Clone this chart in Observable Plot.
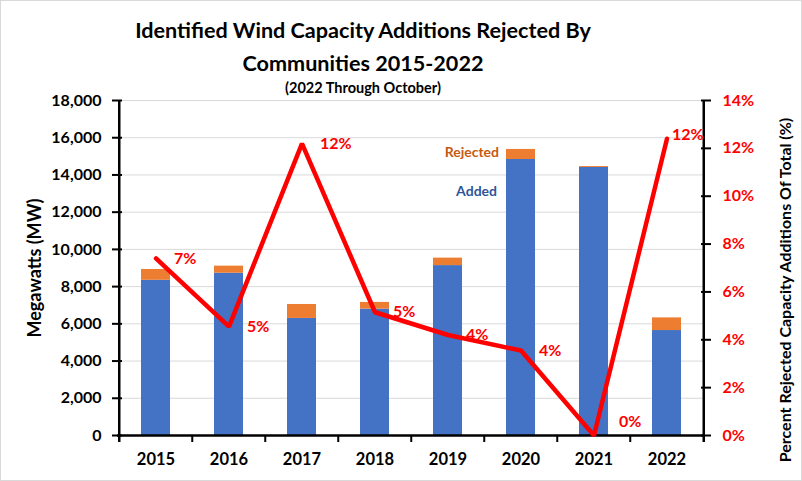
<!DOCTYPE html>
<html>
<head>
<meta charset="utf-8">
<script src="https://cdn.jsdelivr.net/npm/d3@7"></script>
<script src="https://cdn.jsdelivr.net/npm/@observablehq/plot@0.6"></script>
<style>
  html, body { margin: 0; padding: 0; background: #fff; }
  #wrap { position: relative; width: 802px; height: 481px; overflow: hidden; font-family: Lato, "Open Sans", sans-serif; }
  #border { position: absolute; left: 0; top: 0; width: 800px; height: 479px; border: 1px solid #d9d9d9; pointer-events: none; }
  .t { position: absolute; left: 0; width: 726px; text-align: center; font-weight: bold; color: #000; white-space: nowrap; }
  #t1 { top: 14px; font-size: 21.6px; line-height: 32px; }
  #t2 { top: 47px; font-size: 21.6px; line-height: 32px; }
  #t3 { top: 79px; font-size: 14.5px; line-height: 18px; }
  #chart { position: absolute; left: 0; top: 90px; }
</style>
</head>
<body>
<div id="wrap">
  <div class="t" id="t1">Identified Wind Capacity Additions Rejected By</div>
  <div class="t" id="t2">Communities 2015-2022</div>
  <div class="t" id="t3">(2022 Through October)</div>
  <div id="chart"></div>
  <div id="border"></div>
</div>
<script>
const years = ["2015", "2016", "2017", "2018", "2019", "2020", "2021", "2022"];
const added = [8340, 8720, 6290, 6790, 9130, 14830, 14400, 5640];
const rejected = [580, 380, 750, 360, 400, 540, 50, 680];
const pctRejected = [7.4, 4.55, 12.2, 5.15, 4.2, 3.55, 0.0, 12.4];
const seriesNames = ["Added", "Rejected"];
const mwTicks = [0, 2000, 4000, 6000, 8000, 10000, 12000, 14000, 16000, 18000];
const pctTicks = [0, 2, 4, 6, 8, 10, 12, 14];

const MW_MAX = 18000, PCT_MAX = 14;
const K = MW_MAX / PCT_MAX;

const stacked = years.flatMap((yr, i) => [
  {year: yr, series: "Added", value: added[i]},
  {year: yr, series: "Rejected", value: rejected[i]}
]);
const pctData = years.map((yr, i) => ({year: yr, pct: pctRejected[i], i}));
const lastIdx = years.length - 1;
const labelsMain = pctData.filter(d => d.i !== lastIdx && d.pct > 0.5);
const labelsZero = pctData.filter(d => d.i !== lastIdx && d.pct <= 0.5);
const labelsLast = pctData.filter(d => d.i === lastIdx);

const iLab = years.indexOf("2020");
const rejectedLabel = [{year: years[iLab], y: added[iLab] + rejected[iLab], text: "Rejected"}];
const addedLabel = [{year: years[iLab], y: added[iLab], text: "Added"}];

const halfStep = 36.75;
const pctFmt = d => Math.round(d.pct) + "%";

const chart = Plot.plot({
  width: 802,
  height: 391,
  marginTop: 10,
  marginBottom: 46,
  marginLeft: 117,
  marginRight: 97,
  style: {fontFamily: "Lato, 'Open Sans', sans-serif", background: "transparent", overflow: "visible"},
  x: {domain: years, paddingInner: 0.6, paddingOuter: 0.3, label: null},
  y: {domain: [0, MW_MAX], label: null},
  color: {domain: seriesNames, range: ["#4472c4", "#ed7d31"]},
  marks: [
    Plot.gridY(mwTicks, {stroke: "#d9d9d9", strokeOpacity: 1, strokeWidth: 1}),
    Plot.barY(stacked, {x: "year", y: "value", fill: "series", order: seriesNames}),
    // axis lines
    Plot.ruleY([0], {stroke: "#000", strokeWidth: 2.5}),
    Plot.ruleX([years[0]], {dx: -halfStep, stroke: "#000", strokeWidth: 2.5, insetBottom: -7}),
    Plot.ruleX([years[lastIdx]], {dx: halfStep, stroke: "#000", strokeWidth: 2.5, insetBottom: -7}),
    Plot.ruleX(years.slice(1), {dx: -halfStep, stroke: "#000", strokeWidth: 2, insetTop: 328, dy: 7}),
    // left axis
    Plot.axisY({ticks: mwTicks, tickFormat: d3.format(","), tickSize: 10, dx: 5, tickPadding: 11,
      fontSize: 16, fontWeight: "bold", fill: "#000", stroke: "#000", strokeWidth: 2, label: null}),
    // right axis (percent)
    Plot.axisY({anchor: "right", ticks: pctTicks.map(p => p * K), tickFormat: d => Math.round(d / K) + "%",
      tickSize: 10, dx: -5, tickPadding: 12, fontSize: 16, fontWeight: "bold", fill: "#f00", stroke: "#000",
      strokeWidth: 2, label: null}),
    Plot.axisX({tickSize: 0, tickPadding: 18, fontSize: 16.5, fontWeight: "bold", fill: "#000", label: null}),
    // axis titles
    Plot.text(["Megawatts (MW)"], {frameAnchor: "left", textAnchor: "middle", rotate: -90, dx: -82, fontSize: 18,
      fontWeight: "bold", fill: "#000"}),
    Plot.text(["Percent Rejected Capacity Additions Of Total (%)"], {frameAnchor: "right", textAnchor: "middle",
      rotate: -90, dx: 80, dy: 22, fontSize: 16, fontWeight: "bold", fill: "#000"}),
    // percent line
    Plot.line(pctData, {x: "year", y: d => d.pct * K, stroke: "#f00", strokeWidth: 4.5, strokeLinejoin: "miter"}),
    Plot.text(labelsMain, {x: "year", y: d => d.pct * K, text: pctFmt, textAnchor: "start",
      dx: 18, fill: "#f00", fontSize: 16, fontWeight: "bold"}),
    Plot.text(labelsZero, {x: "year", y: d => d.pct * K, text: pctFmt, textAnchor: "start",
      dx: 25, dy: -14, fill: "#f00", fontSize: 16, fontWeight: "bold"}),
    Plot.text(labelsLast, {x: "year", y: d => d.pct * K, text: pctFmt, textAnchor: "start",
      dx: 5, dy: -4, fill: "#f00", fontSize: 16, fontWeight: "bold"}),
    // series labels
    Plot.text(rejectedLabel, {x: "year", y: "y", text: "text", textAnchor: "end", dx: -22, dy: 3,
      fill: "#c55a11", fontSize: 14, fontWeight: "bold"}),
    Plot.text(addedLabel, {x: "year", y: "y", text: "text", textAnchor: "end", dx: -24, dy: 32,
      fill: "#2f5597", fontSize: 14, fontWeight: "bold"})
  ]
});
document.getElementById("chart").appendChild(chart);
</script>
</body>
</html>
